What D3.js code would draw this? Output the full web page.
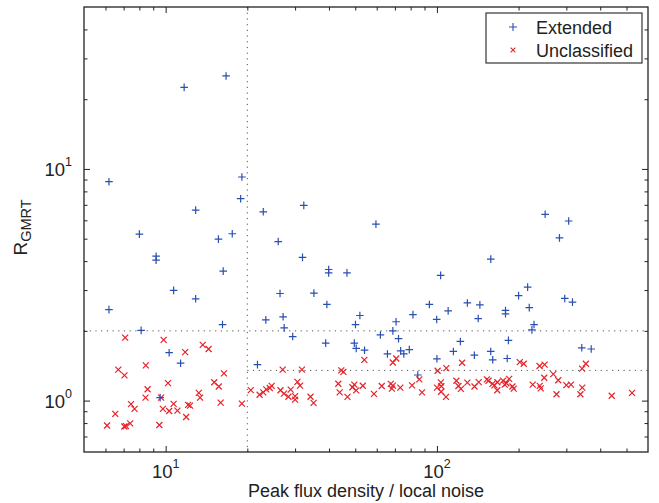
<!DOCTYPE html>
<html>
<head>
<meta charset="utf-8">
<script src="https://cdn.jsdelivr.net/npm/d3@7"></script>
<style>
  body { margin: 0; background: #fff; }
  svg { display: block; font-family: "Liberation Sans", Arial, sans-serif; }
</style>
</head>
<body>
<div id="chart"></div>
<script>
// R_GMRT vs peak flux / local noise — log-log scatter, two classes

// [peak flux / noise, R_GMRT]
const extended = [
  [6.18,8.81],[11.7,22.5],[16.7,25.2],[19.1,9.23],[18.9,7.44],[22.9,6.53],[32.3,6.96],[59.6,5.78],
  [12.9,6.64],[8.0,5.23],[15.65,4.98],[17.6,5.25],[9.22,4.20],[9.22,4.04],[10.7,2.99],[12.9,2.75],
  [6.18,2.47],[16.3,3.62],[16.2,2.13],[26.0,4.86],[31.95,4.15],[39.9,3.68],[39.9,3.56],[46.6,3.56],
  [26.4,2.90],[35.2,2.91],[39.3,2.60],[23.4,2.23],[27.1,2.30],[27.35,2.06],[52.0,2.33],[50.1,2.13],
  [70.7,2.19],[81.6,2.35],[68.8,2.0],[103.2,3.47],[158,4.08],[93.8,2.60],[129.5,2.64],[144,2.59],
  [110,2.44],[99.8,2.24],[142,2.26],[179,2.45],[179,2.37],[200,2.84],[216,3.09],[219,2.52],
  [250.6,6.37],[306,5.96],[283,5.04],[296,2.76],[316,2.66],[228,2.13],[224,2.02],[342,1.69],
  [370.5,1.67],[8.12,2.01],[10.3,1.61],[11.35,1.45],[21.8,1.43],[9.54,1.03],[29.4,1.89],[61.9,1.92],
  [72.2,1.85],[38.9,1.77],[49.6,1.77],[50.4,1.68],[54.1,1.65],[65.7,1.59],[73.5,1.64],[75.5,1.59],
  [79.1,1.66],[100,1.515],[115,1.63],[122,1.80],[85.0,1.29],[183.5,1.82],[137.4,1.57],[157.9,1.63],
  [160.6,1.50],[181.6,1.52]
];

const unclassified = [
  [7.09,1.87],[9.83,1.83],[11.8,1.62],[13.7,1.74],[14.4,1.67],[6.69,1.36],[7.05,1.285],[8.45,1.42],
  [16.4,1.31],[10.2,1.19],[15.1,1.20],[15.7,1.15],[8.58,1.12],[8.43,1.03],[13.25,1.08],[13.4,1.03],
  [20.6,1.11],[22.2,1.06],[22.9,1.086],[23.5,1.118],[24.2,1.133],[24.6,1.158],[9.62,1.03],[7.45,0.966],
  [7.68,0.921],[6.52,0.877],[9.77,0.921],[10.7,0.968],[10.3,0.902],[11.05,0.905],[12.1,0.958],[12.3,0.951],
  [15.95,0.98],[19.1,0.971],[11.9,0.85],[6.08,0.781],[7.04,0.773],[7.14,0.776],[7.40,0.798],[9.48,0.785],
  [54.0,1.50],[70.8,1.52],[68.8,1.46],[27.0,1.36],[31.8,1.36],[44.4,1.35],[45.2,1.33],[100.6,1.345],
  [108.3,1.38],[86.1,1.235],[118,1.218],[26.5,1.108],[27.3,1.072],[28.9,1.116],[28.35,1.039],[30.0,1.046],
  [30.0,1.01],[30.6,1.205],[31.3,1.161],[34.2,1.039],[35.1,0.978],[43.3,1.182],[43.8,1.086],[46.8,1.038],
  [48.8,1.142],[49.6,1.173],[50.4,1.107],[53.3,1.159],[58.6,1.069],[62.6,1.156],[67.6,1.181],[68.8,1.161],
  [68.2,1.127],[73.3,1.138],[81.0,1.164],[88.1,1.086],[100.1,1.138],[103.4,1.199],[103.8,1.153],[103.6,1.092],
  [108,1.038],[120,1.156],[122.6,1.124],[123.8,1.457],[202,1.465],[209,1.442],[239,1.41],[249.5,1.43],
  [343,1.375],[354,1.443],[248.7,1.255],[268.5,1.302],[280,1.224],[129.5,1.196],[137.6,1.15],[142.6,1.202],
  [152.8,1.235],[155,1.218],[160.2,1.181],[162.9,1.164],[167.1,1.2],[166.9,1.108],[175.4,1.22],[177.8,1.173],
  [180.4,1.188],[184.6,1.241],[189.8,1.15],[191.9,1.127],[225.5,1.173],[239.4,1.158],[241.4,1.13],[275.9,1.065],
  [300,1.167],[312,1.173],[343.5,1.138],[338,1.065],[441,1.049],[524,1.08]
];

const xMajor = [10, 100];
const yMajor = [1, 10];
const xMinor = [6, 7, 8, 9, 20, 30, 40, 50, 60, 70, 80, 90, 200, 300, 400, 500];
const yMinor = [0.7, 0.8, 0.9, 2, 3, 4, 5, 6, 7, 8, 9, 20, 30, 40];
const cutX = 20, cutY = 2, cutY2 = 1.35;
const legendItems = [
  {name: "Extended", shape: "plus"},
  {name: "Unclassified", shape: "cross"}
];

const W = 659, H = 503;
const M = {l: 84, r: 11, t: 7, b: 51};
const PW = W - M.l - M.r, PH = H - M.t - M.b;
const BLUE = "#2a4fb3", RED = "#e62229", INK = "#222";

const x = d3.scaleLog().domain([5, 600]).range([0, PW]);
const y = d3.scaleLog().domain([0.6, 50]).range([PH, 0]);

const svg = d3.select("#chart").append("svg").attr("width", W).attr("height", H);
const g = svg.append("g").attr("transform", `translate(${M.l},${M.t})`);

// dotted cut lines
const dot = {stroke: "#555", "stroke-width": 1, "stroke-dasharray": "1.2,4.5"};
const cut = (x1, y1, x2, y2) => {
  const l = g.append("line").attr("x1", x1).attr("y1", y1).attr("x2", x2).attr("y2", y2);
  Object.entries(dot).forEach(([k, v]) => l.attr(k, v));
};
cut(x(cutX), 0, x(cutX), PH);
cut(0, y(cutY), PW, y(cutY));
cut(x(cutX), y(cutY2), PW, y(cutY2));

// markers
const plus = (sel, r) => sel.attr("d", `M${-r},0H${r}M0,${-r}V${r}`);
const cross = (sel, r) => sel.attr("d", `M${-r},${-r}L${r},${r}M${-r},${r}L${r},${-r}`);

g.selectAll(".unc").data(unclassified).enter().append("path")
  .attr("class", "unc")
  .attr("transform", d => `translate(${x(d[0])},${y(d[1])})`)
  .call(cross, 3)
  .attr("fill", "none").attr("stroke", RED).attr("stroke-width", 1.2);

g.selectAll(".ext").data(extended).enter().append("path")
  .attr("class", "ext")
  .attr("transform", d => `translate(${x(d[0])},${y(d[1])})`)
  .call(plus, 3.8)
  .attr("fill", "none").attr("stroke", BLUE).attr("stroke-width", 1.2);

// axes: ticks inward on all four sides
const axes = [
  [d3.axisBottom(x), `translate(0,${PH})`, xMajor, xMinor],
  [d3.axisTop(x), "translate(0,0)", xMajor, xMinor],
  [d3.axisLeft(y), "translate(0,0)", yMajor, yMinor],
  [d3.axisRight(y), `translate(${PW},0)`, yMajor, yMinor]
];
axes.forEach(([ax, tr, maj, min]) => {
  [[maj, -6], [min, -3.5]].forEach(([vals, size]) => {
    const a = g.append("g").attr("transform", tr)
      .call(ax.tickValues(vals).tickSize(size).tickFormat(""));
    a.select(".domain").remove();
    a.selectAll("line").attr("stroke", INK);
  });
});

g.append("rect").attr("width", PW).attr("height", PH)
  .attr("fill", "none").attr("stroke", INK).attr("stroke-width", 1.3);

// tick labels 10^n
const expOf = v => Math.round(Math.log10(v));
xMajor.forEach(v => {
  const t = g.append("text").attr("x", x(v)).attr("y", PH + 26)
    .attr("text-anchor", "middle").attr("fill", INK).attr("font-size", 18.5);
  t.append("tspan").text("10");
  t.append("tspan").attr("font-size", 12.5).attr("dy", -10).text(expOf(v));
});
yMajor.forEach(v => {
  const t = g.append("text").attr("x", -12).attr("y", y(v) + 7)
    .attr("text-anchor", "end").attr("fill", INK).attr("font-size", 18.5);
  t.append("tspan").text("10");
  t.append("tspan").attr("font-size", 12.5).attr("dy", -10).text(expOf(v));
});

// axis titles
g.append("text").attr("x", PW / 2).attr("y", PH + 45)
  .attr("text-anchor", "middle").attr("fill", INK).attr("font-size", 18)
  .text("Peak flux density / local noise");

const yt = svg.append("text").attr("transform", `translate(27,${M.t + PH / 2 - 2}) rotate(-90)`)
  .attr("text-anchor", "middle").attr("fill", INK).attr("font-size", 19);
yt.append("tspan").text("R");
yt.append("tspan").attr("font-size", 14.5).attr("dy", 4).text("GMRT");

// legend
const lg = svg.append("g").attr("transform", "translate(486,13)");
lg.append("rect").attr("width", 156).attr("height", 50)
  .attr("fill", "#fff").attr("stroke", INK).attr("stroke-width", 1.1);
legendItems.forEach((d, i) => {
  const row = lg.append("g").attr("transform", `translate(0,${14 + i * 23})`);
  row.append("path").attr("transform", "translate(27,0)")
    .call(d.shape === "plus" ? plus : cross, d.shape === "plus" ? 4 : 2.4)
    .attr("fill", "none").attr("stroke", d.shape === "plus" ? BLUE : RED).attr("stroke-width", 1.1);
  row.append("text").attr("x", 50).attr("y", 6.5).attr("fill", INK).attr("font-size", 18).text(d.name);
});
</script>
</body>
</html>
